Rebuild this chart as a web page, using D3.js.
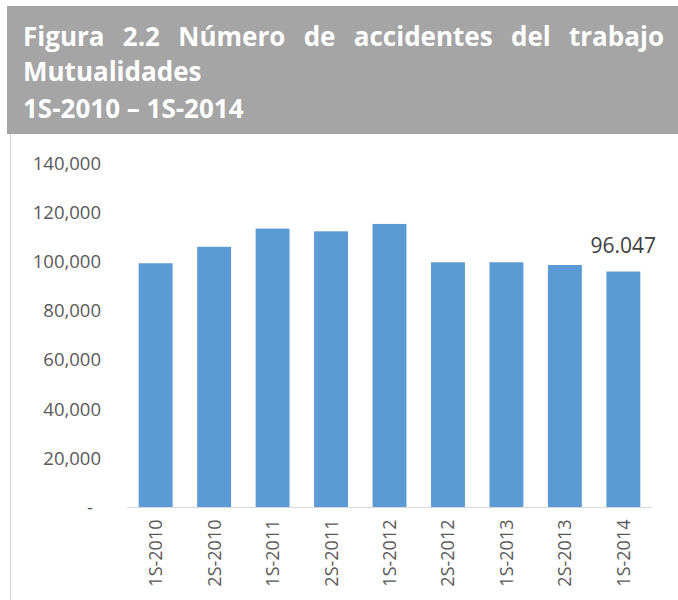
<!DOCTYPE html>
<html>
<head>
<meta charset="utf-8">
<script src="https://cdn.jsdelivr.net/npm/d3@7"></script>
<style>
  html, body { margin: 0; padding: 0; background: #fff; }
  svg { display: block; }
</style>
</head>
<body>
<div id="chart"></div>
<script>
const titleLines = ["Figura 2.2 Número de accidentes del trabajo", "Mutualidades", "1S-2010 – 1S-2014"];
const categories = ["1S-2010", "2S-2010", "1S-2011", "2S-2011", "1S-2012", "2S-2012", "1S-2013", "2S-2013", "1S-2014"];
const values = [99400, 106100, 113500, 112400, 115400, 99800, 99800, 98700, 96047];
const yTicks = [0, 20000, 40000, 60000, 80000, 100000, 120000, 140000];
const lastLabel = "96.047";

const width = 678, height = 600;

const svg = d3.select("#chart").append("svg")
  .attr("width", width)
  .attr("height", height);

// header band
svg.append("rect")
  .attr("x", 7).attr("y", 6)
  .attr("width", width - 7).attr("height", 128)
  .attr("fill", "#a5a5a5");

// panel left border
svg.append("line")
  .attr("x1", 10.5).attr("x2", 10.5)
  .attr("y1", 134).attr("y2", height)
  .attr("stroke", "#d4d4d4");

// title, first line justified like the source document
const head = svg.append("g")
  .attr("font-family", "'Open Sans', sans-serif")
  .attr("font-weight", "bold")
  .attr("font-size", 26)
  .attr("fill", "#fff");

const left = 23, right = 664;
const words = titleLines[0].split(" ");
const wordNodes = words.map(w => head.append("text").attr("y", 46).text(w));
const widths = wordNodes.map(n => n.node().getComputedTextLength());
const gap = (right - left - d3.sum(widths)) / (words.length - 1);
let cx = left;
wordNodes.forEach((n, i) => { n.attr("x", cx); cx += widths[i] + gap; });

head.append("text").attr("x", left).attr("y", 81).text(titleLines[1]);
head.append("text").attr("x", left).attr("y", 118).text(titleLines[2]);

// scales
const x = d3.scaleBand()
  .domain(categories)
  .range([127, 652])
  .paddingInner(0.42)
  .paddingOuter(0.2);

const y = d3.scaleLinear()
  .domain([0, 140000])
  .range([507.5, 163.5]);

// bars
svg.append("g")
  .selectAll("rect")
  .data(values)
  .join("rect")
  .attr("x", (d, i) => x(categories[i]))
  .attr("y", d => y(d))
  .attr("width", x.bandwidth())
  .attr("height", d => y(0) - y(d))
  .attr("fill", "#5b9bd5");

// category axis line
svg.append("line")
  .attr("x1", 127).attr("x2", 652)
  .attr("y1", y(0)).attr("y2", y(0))
  .attr("stroke", "#d9d9d9")
  .attr("stroke-width", 1.2);

// y axis labels
const fmt = d3.format(",");
const yAxis = svg.append("g")
  .attr("transform", "translate(101,0)")
  .call(d3.axisLeft(y).tickValues(yTicks).tickSize(0).tickPadding(0)
    .tickFormat(d => d === 0 ? "-" : fmt(d)));
yAxis.select(".domain").remove();
yAxis.selectAll("text")
  .attr("font-family", "'Open Sans', sans-serif")
  .attr("font-size", 18.5)
  .attr("fill", "#595959");
yAxis.selectAll(".tick").filter(d => d === 0).select("text").attr("x", -8);

// x axis labels, rotated
const xAxis = svg.append("g")
  .attr("transform", `translate(0,${y(0)})`)
  .call(d3.axisBottom(x).tickSize(0));
xAxis.select(".domain").remove();
xAxis.selectAll("text")
  .attr("font-family", "'Open Sans', sans-serif")
  .attr("font-size", 18)
  .attr("fill", "#595959")
  .attr("text-anchor", "end")
  .attr("dy", null)
  .attr("y", 0)
  .attr("transform", "translate(6.5,12) rotate(-90)");

// data label on last bar
const last = categories[categories.length - 1];
svg.append("text")
  .attr("x", x(last) + x.bandwidth() / 2)
  .attr("y", 253)
  .attr("text-anchor", "middle")
  .attr("font-family", "'Open Sans', sans-serif")
  .attr("font-size", 21)
  .attr("fill", "#404040")
  .text(lastLabel);
</script>
</body>
</html>
